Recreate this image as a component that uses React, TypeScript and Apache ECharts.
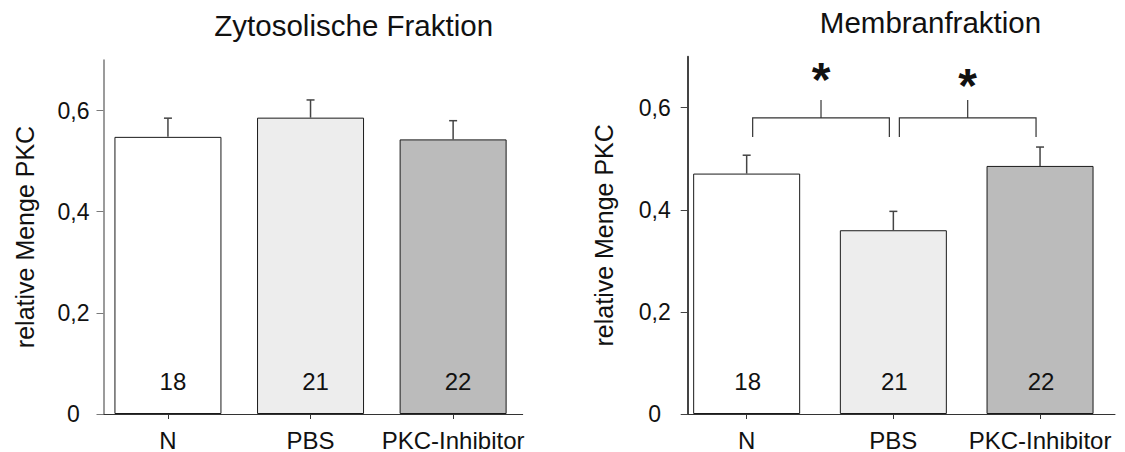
import React, { useEffect, useRef } from "react";
import * as echarts from "echarts";

const categories = ["N", "PBS", "PKC-Inhibitor"];
const counts = [18, 21, 22];
const cytoMeans = [0.548, 0.586, 0.543];
const cytoErrors = [0.037, 0.035, 0.037];
const membMeans = [0.471, 0.36, 0.486];
const membErrors = [0.036, 0.037, 0.037];
const yTicks = [0, 0.2, 0.4, 0.6];
const significantPairs = [
  [0, 1],
  [1, 2],
];
const titles = ["Zytosolische Fraktion", "Membranfraktion"];
const yTitle = "relative Menge PKC";
const barColors = ["#ffffff", "#ededed", "#bbbbbb"];

const FONT = "'Liberation Sans', Arial, Helvetica, sans-serif";
const catPositions = categories.map((_, i) => i);

function xAxisFor(gridIndex: number, min: number, max: number) {
  return {
    type: "value",
    gridIndex,
    min,
    max,
    axisLine: { show: true, onZero: false, lineStyle: { color: "#333", width: 1 } },
    axisTick: { show: true, customValues: catPositions, length: 5, lineStyle: { color: "#333", width: 1 } },
    axisLabel: {
      customValues: catPositions,
      formatter: (v: number) => categories[Math.round(v)] ?? "",
      fontSize: 24,
      color: "#111",
      margin: 14,
      fontFamily: FONT,
    },
    splitLine: { show: false },
  };
}

function yAxisFor(gridIndex: number, color: string, width: number, nameGap: number, margin: number) {
  return {
    type: "value",
    gridIndex,
    min: 0,
    max: 0.7,
    axisLine: { show: true, onZero: false, lineStyle: { color, width } },
    axisTick: { show: true, customValues: yTicks, length: 7, lineStyle: { color, width: 1 } },
    axisLabel: {
      customValues: yTicks,
      formatter: (v: number) => String(v).replace(".", ","),
      fontSize: 23,
      color: "#111",
      margin,
      align: "center",
      fontFamily: FONT,
    },
    splitLine: { show: false },
    name: yTitle,
    nameLocation: "middle",
    nameGap,
    nameRotate: 90,
    nameTextStyle: { fontSize: 25, color: "#111", fontFamily: FONT },
  };
}

function barSeries(idx: number, means: number[], dx: number) {
  return {
    type: "bar",
    xAxisIndex: idx,
    yAxisIndex: idx,
    barWidth: 107,
    data: means.map((m, i) => ({ value: [i, m], itemStyle: { color: barColors[i] } })),
    itemStyle: { borderColor: "#1a1a1a", borderWidth: 1 },
    label: {
      show: true,
      position: ["50%", "100%"],
      offset: [dx, -33],
      align: "center",
      verticalAlign: "middle",
      formatter: (p: any) => String(counts[p.dataIndex]),
      fontSize: 24,
      color: "#111",
      fontFamily: FONT,
    },
    z: 2,
  };
}

function errorSeries(idx: number, means: number[], errs: number[]) {
  return {
    type: "custom",
    xAxisIndex: idx,
    yAxisIndex: idx,
    data: means.map((m, i) => [i, m, errs[i]]),
    renderItem: (_params: any, api: any) => {
      const x = api.value(0);
      const y = api.value(1);
      const e = api.value(2);
      const p0 = api.coord([x, y]);
      const p1 = api.coord([x, y + e]);
      const style = { stroke: "#444", lineWidth: 1.5 };
      return {
        type: "group",
        children: [
          { type: "line", shape: { x1: p0[0], y1: p0[1], x2: p1[0], y2: p1[1] }, style },
          { type: "line", shape: { x1: p1[0] - 4, y1: p1[1], x2: p1[0] + 4, y2: p1[1] }, style },
        ],
      };
    },
    z: 5,
  };
}

const BRACKET_LEVEL = 0.58;

function bracketSeries(idx: number) {
  return {
    type: "custom",
    xAxisIndex: idx,
    yAxisIndex: idx,
    encode: { x: [0, 1] },
    data: significantPairs.map((p) => [p[0], p[1]]),
    renderItem: (params: any, api: any) => {
      const a = api.coord([api.value(0), BRACKET_LEVEL]);
      const b = api.coord([api.value(1), BRACKET_LEVEL]);
      const xl = a[0] + 6;
      const xr = b[0] - 4;
      const yb = a[1];
      const xm = (xl + xr) / 2;
      const style = { stroke: "#333", lineWidth: 1.2 };
      const starLift = params.dataIndex === 0 ? 20 : 14;
      return {
        type: "group",
        children: [
          { type: "polyline", shape: { points: [[xl, yb + 19], [xl, yb], [xr, yb], [xr, yb + 19]] }, style: { ...style, fill: "none" } },
          { type: "line", shape: { x1: xm, y1: yb, x2: xm, y2: yb - 18 }, style },
          {
            type: "text",
            style: {
              text: "*",
              x: xm,
              y: yb - 18 - starLift,
              align: "center",
              verticalAlign: "middle",
              fontSize: 48,
              fontWeight: "bold",
              fill: "#111",
              fontFamily: FONT,
            },
          },
        ],
      };
    },
    z: 6,
  };
}

export default function App() {
  const ref = useRef<HTMLDivElement>(null);
  useEffect(() => {
    if (!ref.current) return;
    const chart = echarts.init(ref.current, undefined, { renderer: "svg" });
    const option: any = {
      animation: false,
      backgroundColor: "#ffffff",
      textStyle: { fontFamily: FONT },
      grid: [
        { left: 103.5, top: 60, width: 419.2, height: 356.7 },
        { left: 687.7, top: 56.7, width: 427.3, height: 357.6 },
      ],
      xAxis: [xAxisFor(0, -0.452, 2.488), xAxisFor(1, -0.402, 2.511)],
      yAxis: [yAxisFor(0, "#7a7a7a", 1.5, 66, 30), yAxisFor(1, "#444", 2, 71, 33)],
      series: [
        barSeries(0, cytoMeans, 5),
        errorSeries(0, cytoMeans, cytoErrors),
        barSeries(1, membMeans, 1),
        errorSeries(1, membMeans, membErrors),
        bracketSeries(1),
      ],
      graphic: [
        {
          type: "text",
          x: 353.7,
          y: 25.5,
          style: { text: titles[0], fontSize: 29.5, fill: "#111", align: "center", verticalAlign: "middle", fontFamily: FONT },
        },
        {
          type: "text",
          x: 930.5,
          y: 22.5,
          style: { text: titles[1], fontSize: 29.5, fill: "#111", align: "center", verticalAlign: "middle", fontFamily: FONT },
        },
      ],
    };
    chart.setOption(option);
    return () => chart.dispose();
  }, []);
  return (
    <div
      ref={ref}
      style={{ position: "absolute", left: 0, top: 0, width: 1125, height: 452, background: "#fff" }}
    />
  );
}
